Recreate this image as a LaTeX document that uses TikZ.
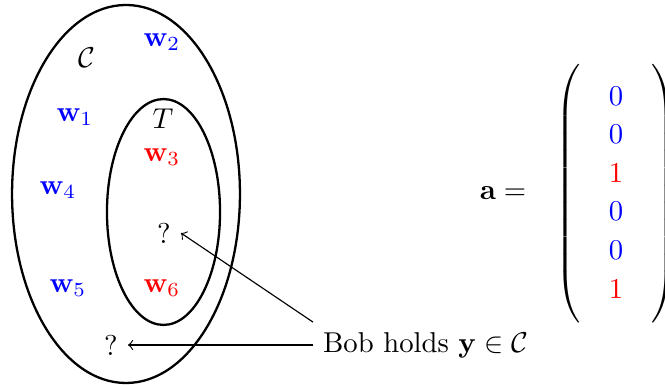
\documentclass[tikz,border=0pt]{standalone}
\usetikzlibrary{shapes.geometric}
\begin{document}
\begin{tikzpicture}[x=0.3484pt,y=-0.3484pt,
  setshape/.style={ellipse,draw,thick,inner sep=0pt},
  bl/.style={text=blue},
  rd/.style={text=red}]
\useasboundingbox (0,0) rectangle (665,385);
\node[setshape,minimum width=79.4pt,minimum height=131.7pt] (Cset) at (126,194) {};
\node[setshape,minimum width=39.4pt,minimum height=78.7pt] (Tset) at (163.5,212) {};
\node (Clab) at (87,58) {$\mathcal{C}$};
\node (Tlab) at (163,119) {$T$};
\node[bl] (w2) at (162,42) {$\mathbf{w}_2$};
\node[bl] (w1) at (75,117) {$\mathbf{w}_1$};
\node[rd] (w3) at (162,157) {$\mathbf{w}_3$};
\node[bl] (w4) at (58,190) {$\mathbf{w}_4$};
\node[bl] (w5) at (68,288) {$\mathbf{w}_5$};
\node[rd] (w6) at (162,288) {$\mathbf{w}_6$};
\node (q1) at (164,233) {?};
\node (q2) at (111,345) {?};
\node[anchor=west] (bob) at (313,345) {Bob holds $\mathbf{y}\in\mathcal{C}$};
\draw[->] (bob.west) -- (q2.east);
\draw[->] (bob.north west) -- (q1.east);
\node (aeq) at (503,193) {$\mathbf{a} =$};
\node (vec) at (616,194) {$\delimitershortfall=-9pt\renewcommand{\arraystretch}{1.12}\left(\begin{array}{@{\hspace{10pt}}c@{\hspace{10pt}}}
\textcolor{blue}{0}\\ \textcolor{blue}{0}\\ \textcolor{red}{1}\\ \textcolor{blue}{0}\\ \textcolor{blue}{0}\\ \textcolor{red}{1}
\end{array}\right)$};
\end{tikzpicture}
\end{document}
